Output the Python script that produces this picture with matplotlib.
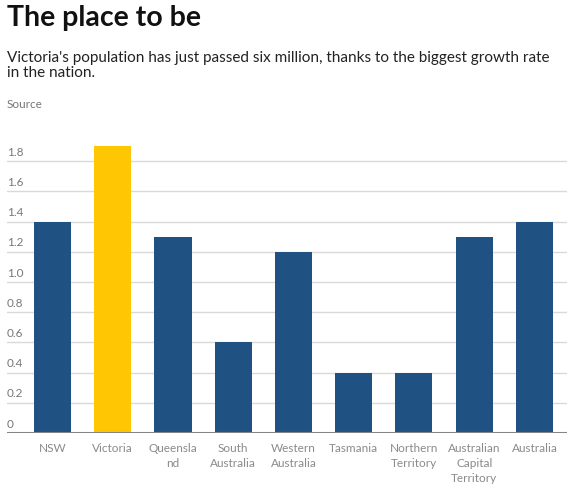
import matplotlib
matplotlib.use("Agg")
import matplotlib.pyplot as plt
from matplotlib.transforms import blended_transform_factory, offset_copy

categories = ["NSW", "Victoria", "Queensla\nnd", "South\nAustralia", "Western\nAustralia",
              "Tasmania", "Northern\nTerritory", "Australian\nCapital\nTerritory", "Australia"]
values = [1.4, 1.9, 1.3, 0.6, 1.2, 0.4, 0.4, 1.3, 1.4]
highlight = "Victoria"
yticks = [0, 0.2, 0.4, 0.6, 0.8, 1.0, 1.2, 1.4, 1.6, 1.8]
ytick_labels = ["0", "0.2", "0.4", "0.6", "0.8", "1.0", "1.2", "1.4", "1.6", "1.8"]

BLUE = "#1f5283"
YELLOW = "#ffc603"
FONT = "Lato"

W, H = 583, 499
fig = plt.figure(figsize=(W / 100, H / 100), dpi=100)
ax_left, ax_right, ax_bottom, ax_top = 7, 567, 433, 131
ax = fig.add_axes([ax_left / W, 1 - ax_bottom / H, (ax_right - ax_left) / W, (ax_bottom - ax_top) / H])

x = list(range(len(categories)))
colors = [YELLOW if c == highlight else BLUE for c in categories]
ax.bar(x, values, width=0.615, color=colors, zorder=2)
ax.set_xlim(-0.755, 8.54)
ax.set_ylim(0, 2.0)

for s in ax.spines.values():
    s.set_visible(False)
ax.set_xticks([])
ax.set_yticks([])
for v in yticks[1:]:
    ax.axhline(v, color="#d9d9d9", lw=1, zorder=1)
ax.axhline(0, color="#858585", lw=2.2, zorder=3)

trans = blended_transform_factory(ax.transAxes, ax.transData)
trans = offset_copy(trans, fig=fig, x=0, y=2.5, units="points")
for v, lab in zip(yticks, ytick_labels):
    ax.text(0, v, lab, transform=trans, ha="left", va="bottom",
            fontsize=8.5, color="#777777", family=FONT)

for xi, c in zip(x, categories):
    ax.annotate(c, xy=(xi, 0), xycoords="data", xytext=(0, -7), textcoords="offset points",
                ha="center", va="top", fontsize=8.5, color="#8a8a8a", family=FONT,
                linespacing=1.45)

fig.text(7 / W, 1 - 5 / H, "The place to be", ha="left", va="top",
         fontsize=20.5, fontweight="bold", color="#111111", family=FONT)
fig.text(7 / W, 1 - 51 / H, "Victoria's population has just passed six million, thanks to the biggest growth rate\nin the nation.",
         ha="left", va="top", fontsize=11, color="#222222", family=FONT, linespacing=1.08)
fig.text(7 / W, 1 - 99 / H, "Source", ha="left", va="top", fontsize=8.5, color="#777777", family=FONT)

fig.savefig("out.png", dpi=100)
